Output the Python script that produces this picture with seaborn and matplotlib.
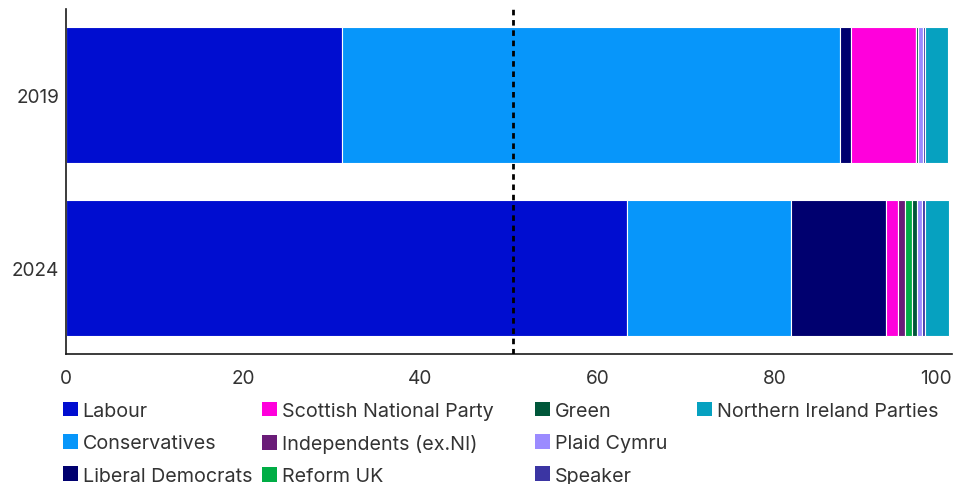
import matplotlib
matplotlib.use("Agg")
import matplotlib.pyplot as plt
import seaborn as sns
import pandas as pd
import numpy as np
from matplotlib.patches import Patch

# ---- data (share of seats, %) ----
years = ["2019", "2024"]
parties = ["Labour", "Conservatives", "Liberal Democrats", "Scottish National Party",
           "Independents (ex.NI)", "Reform UK", "Green", "Plaid Cymru", "Speaker",
           "Northern Ireland Parties"]
labour = [31.17, 63.27]
conservatives = [56.19, 18.55]
lib_dems = [1.24, 10.72]
snp = [7.34, 1.35]
independents = [0.0, 0.80]
reform = [0.0, 0.80]
green = [0.25, 0.54]
plaid = [0.55, 0.59]
speaker = [0.20, 0.31]
ni_parties = [2.65, 2.72]
x_ticks = [0, 20, 40, 60, 80, 100]
majority_line = 50.4

series = [labour, conservatives, lib_dems, snp, independents, reform,
          green, plaid, speaker, ni_parties]
colors = ["#000dd0", "#0796fa", "#00006f", "#ff00dc", "#6a1c78", "#00ad45",
          "#00573a", "#9b8bff", "#3b35a3", "#06a1c0"]

sns.set_theme(style="white")
plt.rcParams["font.family"] = ["Inter", "DejaVu Sans"]
TXT = "#333333"
FS = 13.7
LFS = 14.2

fig = plt.figure(figsize=(9.71, 4.85), dpi=100)
ax = fig.add_axes([66 / 971, 1 - 355 / 485, (952 - 66) / 971, (355 - 10) / 485])

left = np.zeros(len(years))
for name, vals, col in zip(parties, series, colors):
    df = pd.DataFrame({"year": years, "share": vals})
    sns.barplot(data=df, x="share", y="year", order=years, left=left.copy(),
                color=col, saturation=1, width=0.79, edgecolor="white",
                linewidth=0.8, ax=ax, errorbar=None)
    left = left + np.array(vals)

ax.axvline(majority_line, color="black", linestyle=(0, (2, 1.7)), linewidth=2, zorder=5)

ax.set_xlim(0, 100)
ax.set_ylim(1.5, -0.5)
ax.set_xticks(x_ticks)
ax.set_xticklabels([str(t) for t in x_ticks])
ax.xaxis.get_ticklabels()[-1].set_ha("right")
ax.set_xlabel("")
ax.set_ylabel("")
ax.tick_params(axis="x", length=0, pad=11, labelsize=FS, labelcolor=TXT)
ax.tick_params(axis="y", length=0, pad=5, labelsize=FS, labelcolor=TXT)
for s in ["top", "right"]:
    ax.spines[s].set_visible(False)
for s in ["left", "bottom"]:
    ax.spines[s].set_visible(True)
    ax.spines[s].set_color("#1a1a1a")
    ax.spines[s].set_linewidth(1.2)

# ---- legend: four columns placed individually ----
col_x = [63, 262, 535, 697]
groups = [[0, 1, 2], [3, 4, 5], [6, 7, 8], [9]]
for cx, idxs in zip(col_x, groups):
    handles = [Patch(facecolor=colors[i], edgecolor="none") for i in idxs]
    labels = [parties[i] for i in idxs]
    leg = fig.legend(handles, labels, loc="upper left",
                     bbox_to_anchor=(cx / 971, 1 - 403 / 485),
                     frameon=False, fontsize=LFS, handlelength=0.74,
                     handleheight=0.74, handletextpad=0.25, labelspacing=0.72,
                     borderpad=0, borderaxespad=0)
    for t in leg.get_texts():
        t.set_color(TXT)

fig.savefig("out.png", dpi=100)
